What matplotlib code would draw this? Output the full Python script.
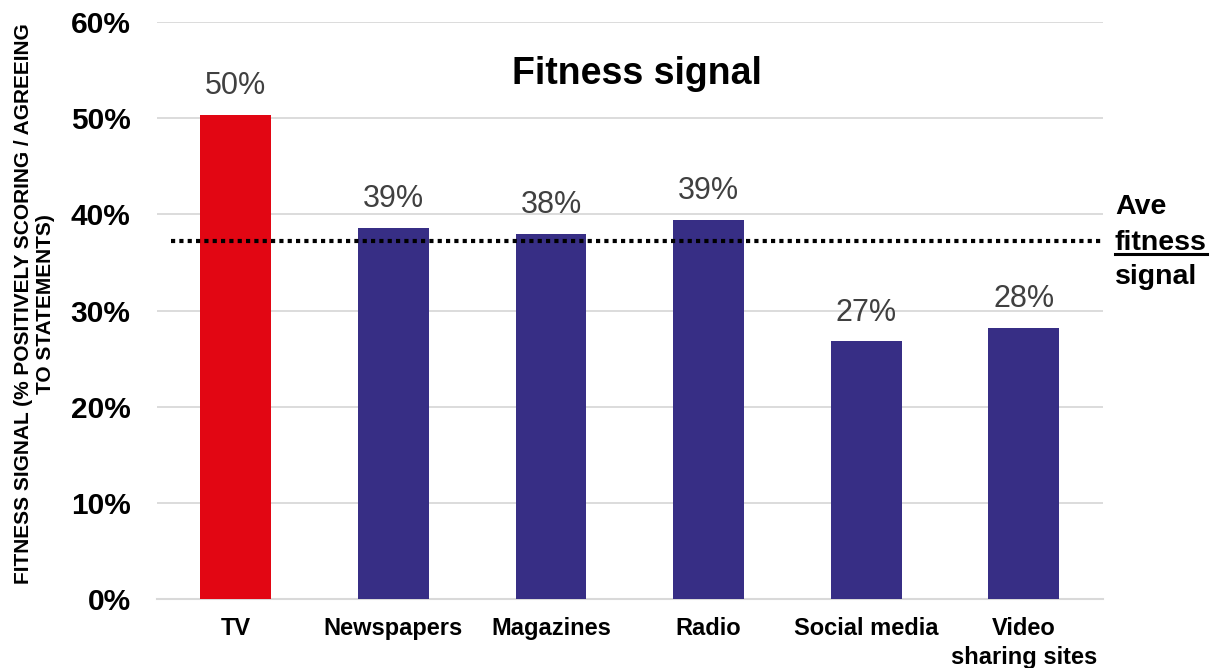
import matplotlib.pyplot as plt
from matplotlib.ticker import PercentFormatter
from matplotlib import font_manager

categories = ["TV", "Newspapers", "Magazines", "Radio", "Social media", "Video\nsharing sites"]
values = [50.3, 38.6, 38.0, 39.4, 26.8, 28.2]
value_labels = ["50%", "39%", "38%", "39%", "27%", "28%"]
average = 37.2
yticks = [0, 10, 20, 30, 40, 50, 60]

RED = "#e20613"
NAVY = "#372e85"
bar_colors = [RED] + [NAVY] * 5

names = {f.name for f in font_manager.fontManager.ttflist}
narrow = ["Liberation Sans Narrow", "Liberation Sans"] if "Liberation Sans Narrow" in names else ["Liberation Sans"]

plt.rcParams["font.family"] = ["Liberation Sans", "DejaVu Sans"]

fig = plt.figure(figsize=(12.17, 6.68), dpi=100)
ax = fig.add_axes([0.129, 0.103, 0.777, 0.864])

x = range(len(categories))
bars = ax.bar(x, values, width=0.45, color=bar_colors, zorder=3)

for b, lab in zip(bars, value_labels):
    ax.annotate(lab, (b.get_x() + b.get_width() / 2, b.get_height()),
                xytext=(0, 10), textcoords="offset points",
                ha="center", va="bottom", fontsize=22, color="#404040")

ax.plot([-0.41, 5.5], [average, average], linestyle=(0, (1, 1)), color="black",
        linewidth=3, zorder=4, clip_on=False)

ax.set_xlim(-0.5, 5.5)
ax.set_ylim(0, 60)
ax.set_yticks(yticks)
ax.yaxis.set_major_formatter(PercentFormatter(decimals=0))
ax.grid(axis="y", color="#d9d9d9", linewidth=1.3, zorder=0)
for s in ["top", "right", "left"]:
    ax.spines[s].set_visible(False)
ax.spines["bottom"].set_color("#d9d9d9")
ax.spines["bottom"].set_linewidth(1.5)
ax.tick_params(axis="both", length=0)
ax.tick_params(axis="y", pad=19)
ax.tick_params(axis="x", pad=13)
for t in ax.get_yticklabels():
    t.set_fontsize(21.5)
    t.set_fontweight("bold")
ax.set_xticks(list(x))
ax.set_xticklabels(categories, fontsize=17, fontweight="bold", family=narrow, linespacing=1.3)
for t in ax.get_xticklabels():
    t.set_verticalalignment("top")

ax.set_ylabel("FITNESS SIGNAL (% POSITIVELY SCORING / AGREEING\nTO STATEMENTS)",
              fontsize=15, fontweight="bold", family=narrow, linespacing=1.2)
ax.yaxis.set_label_coords(-0.108, 0.512)

ax.text(0.508, 0.91, "Fitness signal", transform=ax.transAxes, ha="center", va="center",
        fontsize=27, fontweight="bold")

ave_x = 1.013
ax.text(ave_x, 0.679, "Ave", transform=ax.transAxes, ha="left", va="center",
        fontsize=20.5, fontweight="bold")
fit = ax.text(ave_x, 0.617, "fitness", transform=ax.transAxes, ha="left", va="center",
              fontsize=20.5, fontweight="bold")
ax.text(ave_x, 0.558, "signal", transform=ax.transAxes, ha="left", va="center",
        fontsize=20.5, fontweight="bold")

# underline "fitness"
fig.canvas.draw()
bb = fit.get_window_extent(fig.canvas.get_renderer())
inv = fig.transFigure.inverted()
(x0, y0), (x1, y1) = inv.transform([(bb.x0, bb.y0), (bb.x1, bb.y1)])
fig.add_artist(plt.Line2D([x0, x1], [y0 + 0.003, y0 + 0.003], color="black", linewidth=2.2,
                          transform=fig.transFigure))

fig.savefig("out.png", dpi=100)
